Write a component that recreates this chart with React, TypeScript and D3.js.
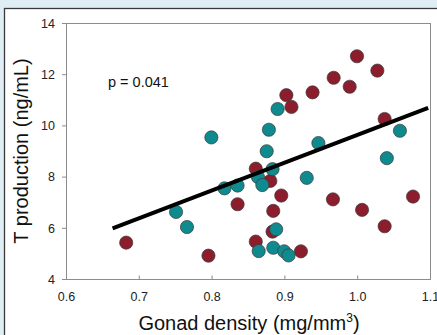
import React from "react";
import * as d3 from "d3";

const redX = [0.682, 0.795, 0.835, 0.86, 0.88, 0.895, 0.884, 0.883, 0.86, 0.922, 0.902, 0.909, 0.938, 0.967, 0.989, 0.999, 1.027, 1.037, 0.966, 1.006, 1.037, 1.076];
const redY = [5.44, 4.93, 6.94, 8.33, 7.85, 7.28, 6.68, 5.87, 5.48, 5.1, 11.2, 10.74, 11.31, 11.88, 11.53, 12.72, 12.16, 10.27, 7.13, 6.72, 6.08, 7.24];
const tealX = [0.799, 0.7505, 0.7655, 0.817, 0.835, 0.863, 0.869, 0.883, 0.875, 0.878, 0.89, 0.946, 0.93, 0.888, 0.864, 0.884, 0.899, 0.905, 1.04, 1.058];
const tealY = [9.55, 6.64, 6.05, 7.56, 7.67, 8.0, 7.69, 8.31, 9.01, 9.85, 10.66, 9.33, 7.97, 5.96, 5.11, 5.24, 5.1, 4.94, 8.74, 9.81];
const fitX = [0.6633, 1.0968];
const fitY = [6.0, 10.7];
const xTicks = [0.6, 0.7, 0.8, 0.9, 1.0, 1.1];
const yTicks = [4, 6, 8, 10, 12, 14];
const pLabel = "p = 0.041";

export default function App() {
  const W = 437, H = 335;
  const left = 66.5, right = 430.5, top = 23.5, bottom = 279.5;
  const x = d3.scaleLinear().domain([0.6, 1.1]).range([left, right]);
  const y = d3.scaleLinear().domain([4, 14]).range([bottom, top]);
  const font = "'Liberation Sans', Arial, sans-serif";
  const axisColor = "#8c8c8c";
  const red = "#8b1d2c";
  const teal = "#0f8a8e";
  const line = d3.line<number>().x((_, i) => x(fitX[i])).y((_, i) => y(fitY[i]));
  return (
    <svg width={W} height={H} style={{ position: "absolute", left: 0, top: 0 }} fontFamily={font}>
      <rect x={0} y={0} width={W} height={H} fill="#dfeef4" />
      <rect x={4.5} y={8.5} width={W} height={H} fill="#ffffff" stroke="#3a3a3a" strokeWidth={1.3} />
      {/* plot frame */}
      <rect x={left} y={top} width={right - left} height={bottom - top} fill="none" stroke={axisColor} strokeWidth={1} />
      {yTicks.map((t) => (
        <g key={"y" + t}>
          <line x1={left - 4.5} x2={left} y1={y(t)} y2={y(t)} stroke={axisColor} />
          <text x={55} y={y(t)} dy="0.35em" textAnchor="end" fontSize={12.5} fill="#222">{t}</text>
        </g>
      ))}
      {xTicks.map((t) => (
        <g key={"x" + t}>
          <line x1={x(t)} x2={x(t)} y1={bottom} y2={bottom - 4} stroke={axisColor} />
          <text x={x(t)} y={301} textAnchor="middle" fontSize={12.5} fill="#222">{t.toFixed(1)}</text>
        </g>
      ))}
      {redX.map((v, i) => (
        <circle key={"r" + i} cx={x(v)} cy={y(redY[i])} r={6.6} fill={red} stroke="#3a3a3a" strokeWidth={0.7} />
      ))}
      {tealX.map((v, i) => (
        <circle key={"t" + i} cx={x(v)} cy={y(tealY[i])} r={6.6} fill={teal} stroke="#3a3a3a" strokeWidth={0.7} />
      ))}
      <path d={line(fitX) || ""} stroke="#000" strokeWidth={4} fill="none" />
      <text x={108} y={87} fontSize={14.5} fill="#111">{pLabel}</text>
      <text x={249} y={330} textAnchor="middle" fontSize={20} fill="#111">
        Gonad density (mg/mm<tspan dy={-8} fontSize={12}>3</tspan><tspan dy={8}>)</tspan>
      </text>
      <text transform={`translate(28, 151) rotate(-90)`} textAnchor="middle" fontSize={20} fill="#111">T production (ng/mL)</text>
    </svg>
  );
}
